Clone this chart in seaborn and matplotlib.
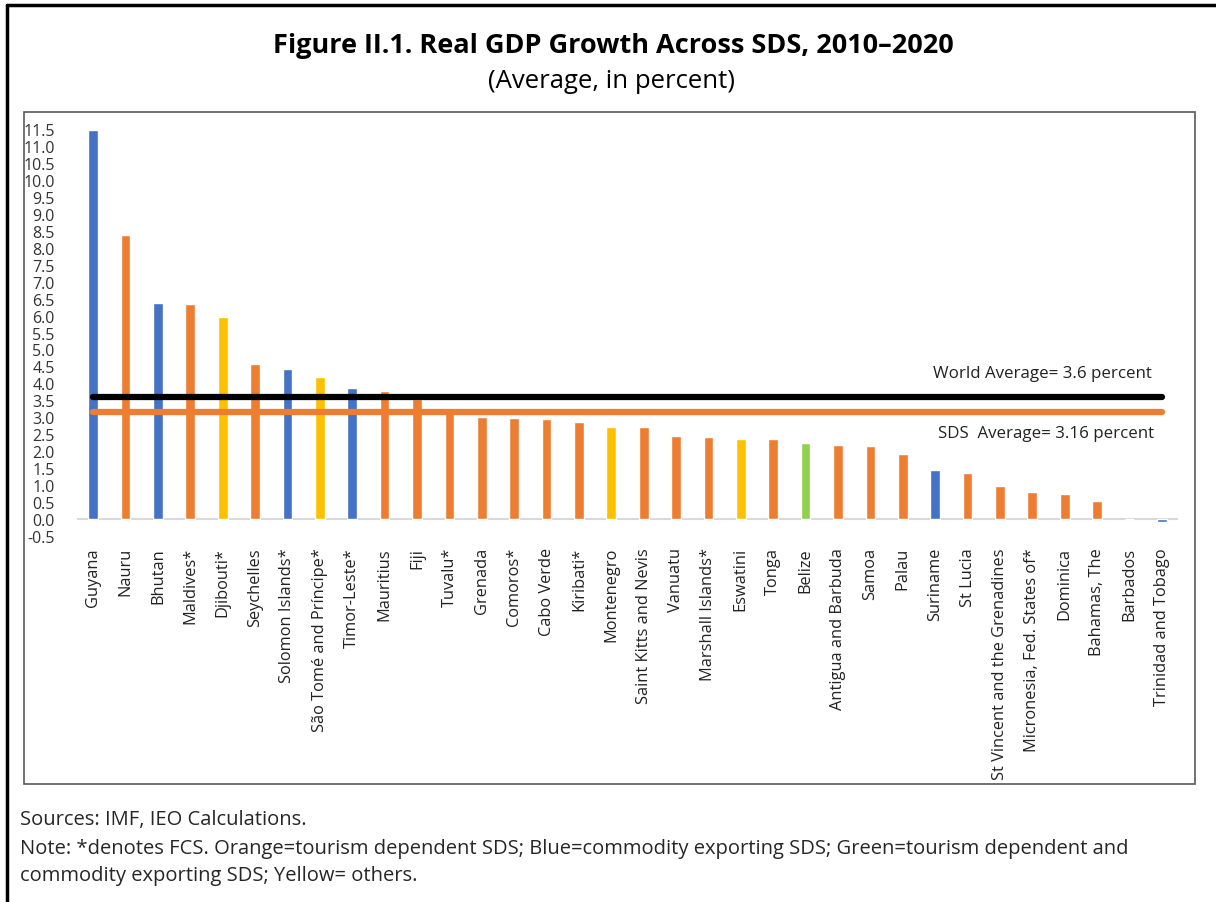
import matplotlib
matplotlib.use("Agg")
import matplotlib.pyplot as plt
import seaborn as sns
import pandas as pd
from matplotlib.patches import Rectangle
from matplotlib.lines import Line2D

countries = ["Guyana", "Nauru", "Bhutan", "Maldives*", "Djibouti*", "Seychelles",
             "Solomon Islands*", "São Tomé and Príncipe*", "Timor-Leste*", "Mauritius",
             "Fiji", "Tuvalu*", "Grenada", "Comoros*", "Cabo Verde", "Kiribati*",
             "Montenegro", "Saint Kitts and Nevis", "Vanuatu", "Marshall Islands*",
             "Eswatini", "Tonga", "Belize", "Antigua and Barbuda", "Samoa", "Palau",
             "Suriname", "St Lucia", "St Vincent and the Grenadines",
             "Micronesia, Fed. States of*", "Dominica", "Bahamas, The", "Barbados",
             "Trinidad and Tobago"]
growth = [11.48, 8.38, 6.37, 6.33, 5.96, 4.56, 4.41, 4.19, 3.85, 3.77,
          3.54, 3.17, 3.00, 2.97, 2.94, 2.85, 2.70, 2.70, 2.44, 2.41,
          2.37, 2.37, 2.25, 2.17, 2.14, 1.91, 1.46, 1.35, 0.97, 0.79,
          0.75, 0.52, 0.0, -0.10]
groups = ["Commodity", "Tourism", "Commodity", "Tourism", "Other", "Tourism",
          "Commodity", "Other", "Commodity", "Tourism", "Tourism", "Tourism",
          "Tourism", "Tourism", "Tourism", "Tourism", "Other", "Tourism",
          "Tourism", "Tourism", "Other", "Tourism", "Both", "Tourism", "Tourism",
          "Tourism", "Commodity", "Tourism", "Tourism", "Tourism", "Tourism",
          "Tourism", "Tourism", "Commodity"]
world_avg = 3.6
sds_avg = 3.16
yticks = [-0.5 + 0.5 * i for i in range(25)]

palette = {"Tourism": "#ED7D31", "Commodity": "#4472C4", "Other": "#FFC000", "Both": "#92D050"}

df = pd.DataFrame({"country": countries, "growth": growth, "group": groups})

sns.set_style("white")
plt.rcParams["font.family"] = ["Open Sans", "DejaVu Sans"]

W, H = 1216, 903
fig = plt.figure(figsize=(W / 100, H / 100), dpi=100)

def fx(px):
    return px / W

def fy(py):
    return 1 - py / H

ax = fig.add_axes([fx(77), fy(537), fx(1178) - fx(77), fy(130) - fy(537)])

sns.barplot(data=df, x="country", y="growth", hue="group", palette=palette,
            dodge=False, width=0.3, legend=False, ax=ax, saturation=1)

ax.set_xlim(-0.5, len(countries) - 0.5)
ax.set_ylim(-0.5, 11.5)
ax.set_yticks(yticks)
ax.set_yticklabels([f"{v:.1f}" for v in yticks], fontsize=11.5, color="#333333")
ax.tick_params(axis="y", length=0, pad=16)
ax.tick_params(axis="x", length=0, pad=8)
ax.set_xticks(range(len(countries)))
ax.set_xticklabels(countries, rotation=90, fontsize=11.8, color="#222222", va="top")
ax.set_xlabel("")
ax.set_ylabel("")
for s in ax.spines.values():
    s.set_visible(False)
ax.axhline(0, color="#D9D9D9", lw=1.5, zorder=0)

n = len(countries)
ax.plot([0, n - 1], [world_avg, world_avg], color="black", lw=4.5, solid_capstyle="round", zorder=5)
ax.plot([0, n - 1], [sds_avg, sds_avg], color="#ED7D31", lw=4.5, solid_capstyle="round", zorder=5)
ax.text(32.7, 4.3, "World Average= 3.6 percent", ha="right", va="center", fontsize=12.2, color="#222222")
ax.text(32.75, 2.55, "SDS  Average= 3.16 percent", ha="right", va="center", fontsize=12.2, color="#222222")

# inner chart box
fig.add_artist(Rectangle((fx(24), fy(785)), fx(1195) - fx(24), fy(113) - fy(785),
                         transform=fig.transFigure, fill=False, edgecolor="#595959", lw=1.2))
# outer border (top and left)
fig.add_artist(Line2D([fx(7), 1], [fy(6), fy(6)], transform=fig.transFigure, color="black", lw=2.5))
fig.add_artist(Line2D([fx(7), fx(7)], [fy(6), 0], transform=fig.transFigure, color="black", lw=2.5))

fig.text(fx(613), fy(46), "Figure II.1. Real GDP Growth Across SDS, 2010–2020",
         ha="center", va="center", fontsize=19.5, fontweight="bold", color="black")
fig.text(fx(612), fy(81), "(Average, in percent)", ha="center", va="center", fontsize=18.5, color="black")

fig.text(fx(20), fy(820), "Sources: IMF, IEO Calculations.", ha="left", va="center", fontsize=14.5)
fig.text(fx(20), fy(849), "Note: *denotes FCS. Orange=tourism dependent SDS; Blue=commodity exporting SDS; Green=tourism dependent and",
         ha="left", va="center", fontsize=14.5)
fig.text(fx(20), fy(876), "commodity exporting SDS; Yellow= others.", ha="left", va="center", fontsize=14.5)

fig.savefig("out.png", dpi=100)
